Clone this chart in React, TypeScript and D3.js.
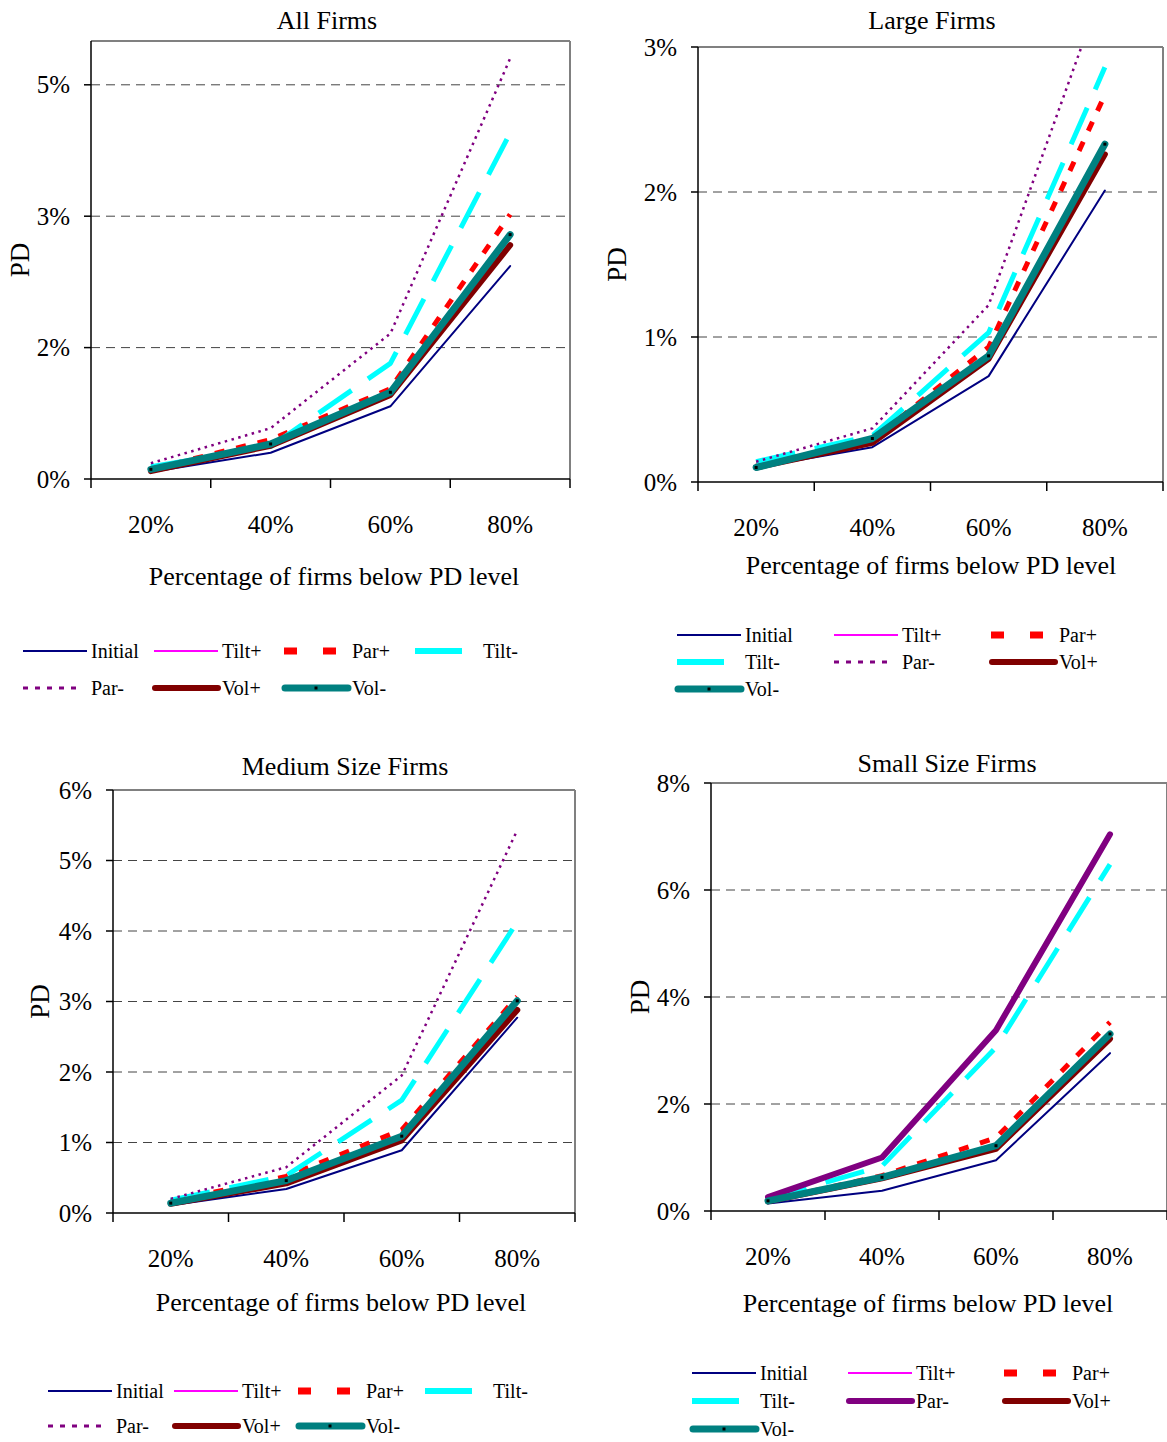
import React from 'react';
import * as d3 from 'd3';

// categories on the x axis
const categories = ["20%", "40%", "60%", "80%"];
const seriesNames = ["Initial", "Tilt+", "Par+", "Tilt-", "Par-", "Vol+", "Vol-"];

// PD values, one array per series
const allFirms = {
  "Initial": [0.0008, 0.0030, 0.0083, 0.0243],
  "Tilt+": [0.0011, 0.0040, 0.0099, 0.0278],
  "Par+": [0.0011, 0.0045, 0.0103, 0.0302],
  "Tilt-": [0.0014, 0.0037, 0.0132, 0.0395],
  "Par-": [0.0018, 0.0058, 0.0166, 0.0480],
  "Vol+": [0.0009, 0.0038, 0.0096, 0.0267],
  "Vol-": [0.0011, 0.0040, 0.0099, 0.0279],
};
const largeFirms = {
  "Initial": [0.0010, 0.0024, 0.0073, 0.0201],
  "Tilt+": [0.0010, 0.0030, 0.0087, 0.0233],
  "Par+": [0.0011, 0.0029, 0.0093, 0.0267],
  "Tilt-": [0.0014, 0.0032, 0.0103, 0.0286],
  "Par-": [0.0014, 0.0037, 0.0122, 0.0345],
  "Vol+": [0.0010, 0.0027, 0.0085, 0.0226],
  "Vol-": [0.0010, 0.0030, 0.0087, 0.0233],
};
const mediumFirms = {
  "Initial": [0.0011, 0.0034, 0.0089, 0.0277],
  "Tilt+": [0.0014, 0.0046, 0.0109, 0.0300],
  "Par+": [0.0016, 0.0052, 0.0118, 0.0307],
  "Tilt-": [0.0018, 0.0053, 0.0160, 0.0413],
  "Par-": [0.0020, 0.0065, 0.0195, 0.0543],
  "Vol+": [0.0013, 0.0042, 0.0103, 0.0288],
  "Vol-": [0.0014, 0.0046, 0.0109, 0.0301],
};
const smallFirms = {
  "Initial": [0.0014, 0.0038, 0.0095, 0.0295],
  "Tilt+": [0.0019, 0.0063, 0.0122, 0.0331],
  "Par+": [0.0019, 0.0066, 0.0137, 0.0353],
  "Tilt-": [0.0022, 0.0084, 0.0306, 0.0648],
  "Par-": [0.0026, 0.0100, 0.0338, 0.0704],
  "Vol+": [0.0018, 0.0061, 0.0116, 0.0322],
  "Vol-": [0.0019, 0.0063, 0.0122, 0.0331],
};

// y ticks and their (Excel-rounded) labels
const allTicks = [0, 0.015, 0.03, 0.045];
const allTickLabels = ["0%", "2%", "3%", "5%"];
const largeTicks = [0, 0.01, 0.02, 0.03];
const largeTickLabels = ["0%", "1%", "2%", "3%"];
const mediumTicks = [0, 0.01, 0.02, 0.03, 0.04, 0.05, 0.06];
const mediumTickLabels = ["0%", "1%", "2%", "3%", "4%", "5%", "6%"];
const smallTicks = [0, 0.02, 0.04, 0.06, 0.08];
const smallTickLabels = ["0%", "2%", "4%", "6%", "8%"];

const FONT = "'Liberation Serif', 'Times New Roman', serif";

const baseStyles = {
  "Initial": { stroke: "#000080", width: 2 },
  "Tilt+": { stroke: "#FF00FF", width: 2 },
  "Par+": { stroke: "#FF0000", width: 5, dash: "10,12" },
  "Tilt-": { stroke: "#00FFFF", width: 5, dash: "40,20" },
  "Par-": { stroke: "#800080", width: 2.5, dash: "2.5,4.5" },
  "Vol+": { stroke: "#800000", width: 6 },
  "Vol-": { stroke: "#008080", width: 7, marker: true },
};

function styleFor(name, solidParMinus) {
  if (name === "Par-" && solidParMinus) return { stroke: "#800080", width: 6 };
  return baseStyles[name];
}

function LegendSample({ name, textX, y, st }) {
  const x0 = textX - 68;
  if (name === "Par+") {
    return <line x1={x0} x2={textX - 15} y1={y} y2={y} stroke={st.stroke} strokeWidth={7} strokeDasharray="13,26" />;
  }
  if (name === "Tilt-") {
    return <line x1={x0} x2={textX - 21} y1={y} y2={y} stroke={st.stroke} strokeWidth={6} />;
  }
  if (st.dash) {
    return <line x1={x0} x2={textX - 11} y1={y} y2={y} stroke={st.stroke} strokeWidth={3} strokeDasharray="5,7" />;
  }
  const thick = st.width > 3;
  return (
    <g>
      <line x1={thick ? x0 + 1 : x0} x2={textX - 4} y1={y} y2={y} stroke={st.stroke}
        strokeWidth={st.width} strokeLinecap={thick ? "round" : "butt"} />
      {st.marker && <rect x={(x0 + textX - 4) / 2 - 1.5} y={y - 1.5} width={3} height={3} fill="#000" />}
    </g>
  );
}

function Panel({ id, title, data, ticks, tickLabels, yMax, left, right, top, bottom,
  titleX, titleY, tickLabelY, axisTitleX, axisTitleY, pdX, legendCols, legendRows, solidParMinus }) {
  const x = d3.scaleBand().domain(categories).range([left, right]);
  const y = d3.scaleLinear().domain([0, yMax]).range([bottom, top]);
  const cx = (c) => x(c) + x.bandwidth() / 2;
  const line = d3.line().x((d) => cx(d[0])).y((d) => y(d[1]));
  const bounds = [...categories.map((c) => x(c)), right];
  const nCols = legendCols.length;

  return (
    <g fontFamily={FONT} fill="#000">
      <defs>
        <clipPath id={`clip-${id}`}>
          <rect x={left} y={top} width={right - left} height={bottom - top} />
        </clipPath>
      </defs>
      <text x={titleX} y={titleY} textAnchor="middle" dominantBaseline="central" fontSize={26}>{title}</text>

      {/* grid */}
      {ticks.filter((t) => t > 0 && t < yMax).map((t) => (
        <line key={t} x1={left} x2={right} y1={y(t)} y2={y(t)} stroke="#444" strokeWidth={1} strokeDasharray="9,6" />
      ))}
      {/* box */}
      <line x1={left} x2={right} y1={top} y2={top} stroke="#808080" strokeWidth={2} />
      <line x1={right} x2={right} y1={top} y2={bottom} stroke="#808080" strokeWidth={2} />

      {/* series */}
      <g clipPath={`url(#clip-${id})`}>
        {seriesNames.map((name) => {
          const st = styleFor(name, solidParMinus);
          const pts = categories.map((c, i) => [c, data[name][i]]);
          return (
            <g key={name}>
              <path d={line(pts)} fill="none" stroke={st.stroke} strokeWidth={st.width}
                strokeDasharray={st.dash} strokeLinejoin="round"
                strokeLinecap={st.dash ? "butt" : "round"} />
              {st.marker && pts.map((p) => (
                <rect key={p[0]} x={cx(p[0]) - 1.5} y={y(p[1]) - 1.5} width={3} height={3} fill="#000" />
              ))}
            </g>
          );
        })}
      </g>

      {/* axes */}
      <line x1={left} x2={left} y1={top} y2={bottom} stroke="#000" strokeWidth={1.5} />
      <line x1={left} x2={right} y1={bottom} y2={bottom} stroke="#000" strokeWidth={1.5} />
      {ticks.map((t, i) => (
        <g key={t}>
          <line x1={left - 7} x2={left} y1={y(t)} y2={y(t)} stroke="#000" strokeWidth={1.5} />
          <text x={left - 21} y={y(t)} textAnchor="end" dominantBaseline="central" fontSize={25}>{tickLabels[i]}</text>
        </g>
      ))}
      {bounds.map((b, i) => (
        <line key={i} x1={b} x2={b} y1={bottom} y2={bottom + 9} stroke="#000" strokeWidth={1.5} />
      ))}
      {categories.map((c) => (
        <text key={c} x={cx(c)} y={tickLabelY} textAnchor="middle" dominantBaseline="central" fontSize={25}>{c}</text>
      ))}
      <text x={axisTitleX} y={axisTitleY} textAnchor="middle" dominantBaseline="central" fontSize={26}>
        Percentage of firms below PD level
      </text>
      <text transform={`translate(${pdX},${(top + bottom) / 2}) rotate(-90)`} textAnchor="middle"
        dominantBaseline="central" fontSize={27}>PD</text>

      {/* legend */}
      {seriesNames.map((name, i) => {
        const textX = legendCols[i % nCols];
        const ly = legendRows[Math.floor(i / nCols)];
        const st = styleFor(name, solidParMinus);
        return (
          <g key={name}>
            <LegendSample name={name} textX={textX} y={ly} st={st} />
            <text x={textX} y={ly} dominantBaseline="central" fontSize={20}>{name}</text>
          </g>
        );
      })}
    </g>
  );
}

export default function App() {
  return (
    <svg width={1167} height={1442} style={{ position: "absolute", left: 0, top: 0, background: "#fff" }}>
      <rect width={1167} height={1442} fill="#fff" />
      <Panel id="all" title="All Firms" data={allFirms} ticks={allTicks} tickLabels={allTickLabels}
        yMax={0.05} left={91} right={570} top={41} bottom={479}
        titleX={327} titleY={20} tickLabelY={524} axisTitleX={334} axisTitleY={576} pdX={20}
        legendCols={[91, 222, 352, 483]} legendRows={[651, 688]} />
      <Panel id="large" title="Large Firms" data={largeFirms} ticks={largeTicks} tickLabels={largeTickLabels}
        yMax={0.03} left={698} right={1163} top={47} bottom={482}
        titleX={932} titleY={20} tickLabelY={527} axisTitleX={931} axisTitleY={565} pdX={617}
        legendCols={[745, 902, 1059]} legendRows={[635, 662, 689]} />
      <Panel id="medium" title="Medium Size Firms" data={mediumFirms} ticks={mediumTicks} tickLabels={mediumTickLabels}
        yMax={0.06} left={113} right={575} top={790} bottom={1213}
        titleX={345} titleY={766} tickLabelY={1258} axisTitleX={341} axisTitleY={1302} pdX={40}
        legendCols={[116, 242, 366, 493]} legendRows={[1391, 1426]} />
      <Panel id="small" title="Small Size Firms" data={smallFirms} ticks={smallTicks} tickLabels={smallTickLabels}
        yMax={0.08} left={711} right={1167} top={783} bottom={1211}
        titleX={947} titleY={763} tickLabelY={1256} axisTitleX={928} axisTitleY={1303} pdX={640}
        legendCols={[760, 916, 1072]} legendRows={[1373, 1401, 1429]} solidParMinus />
    </svg>
  );
}
